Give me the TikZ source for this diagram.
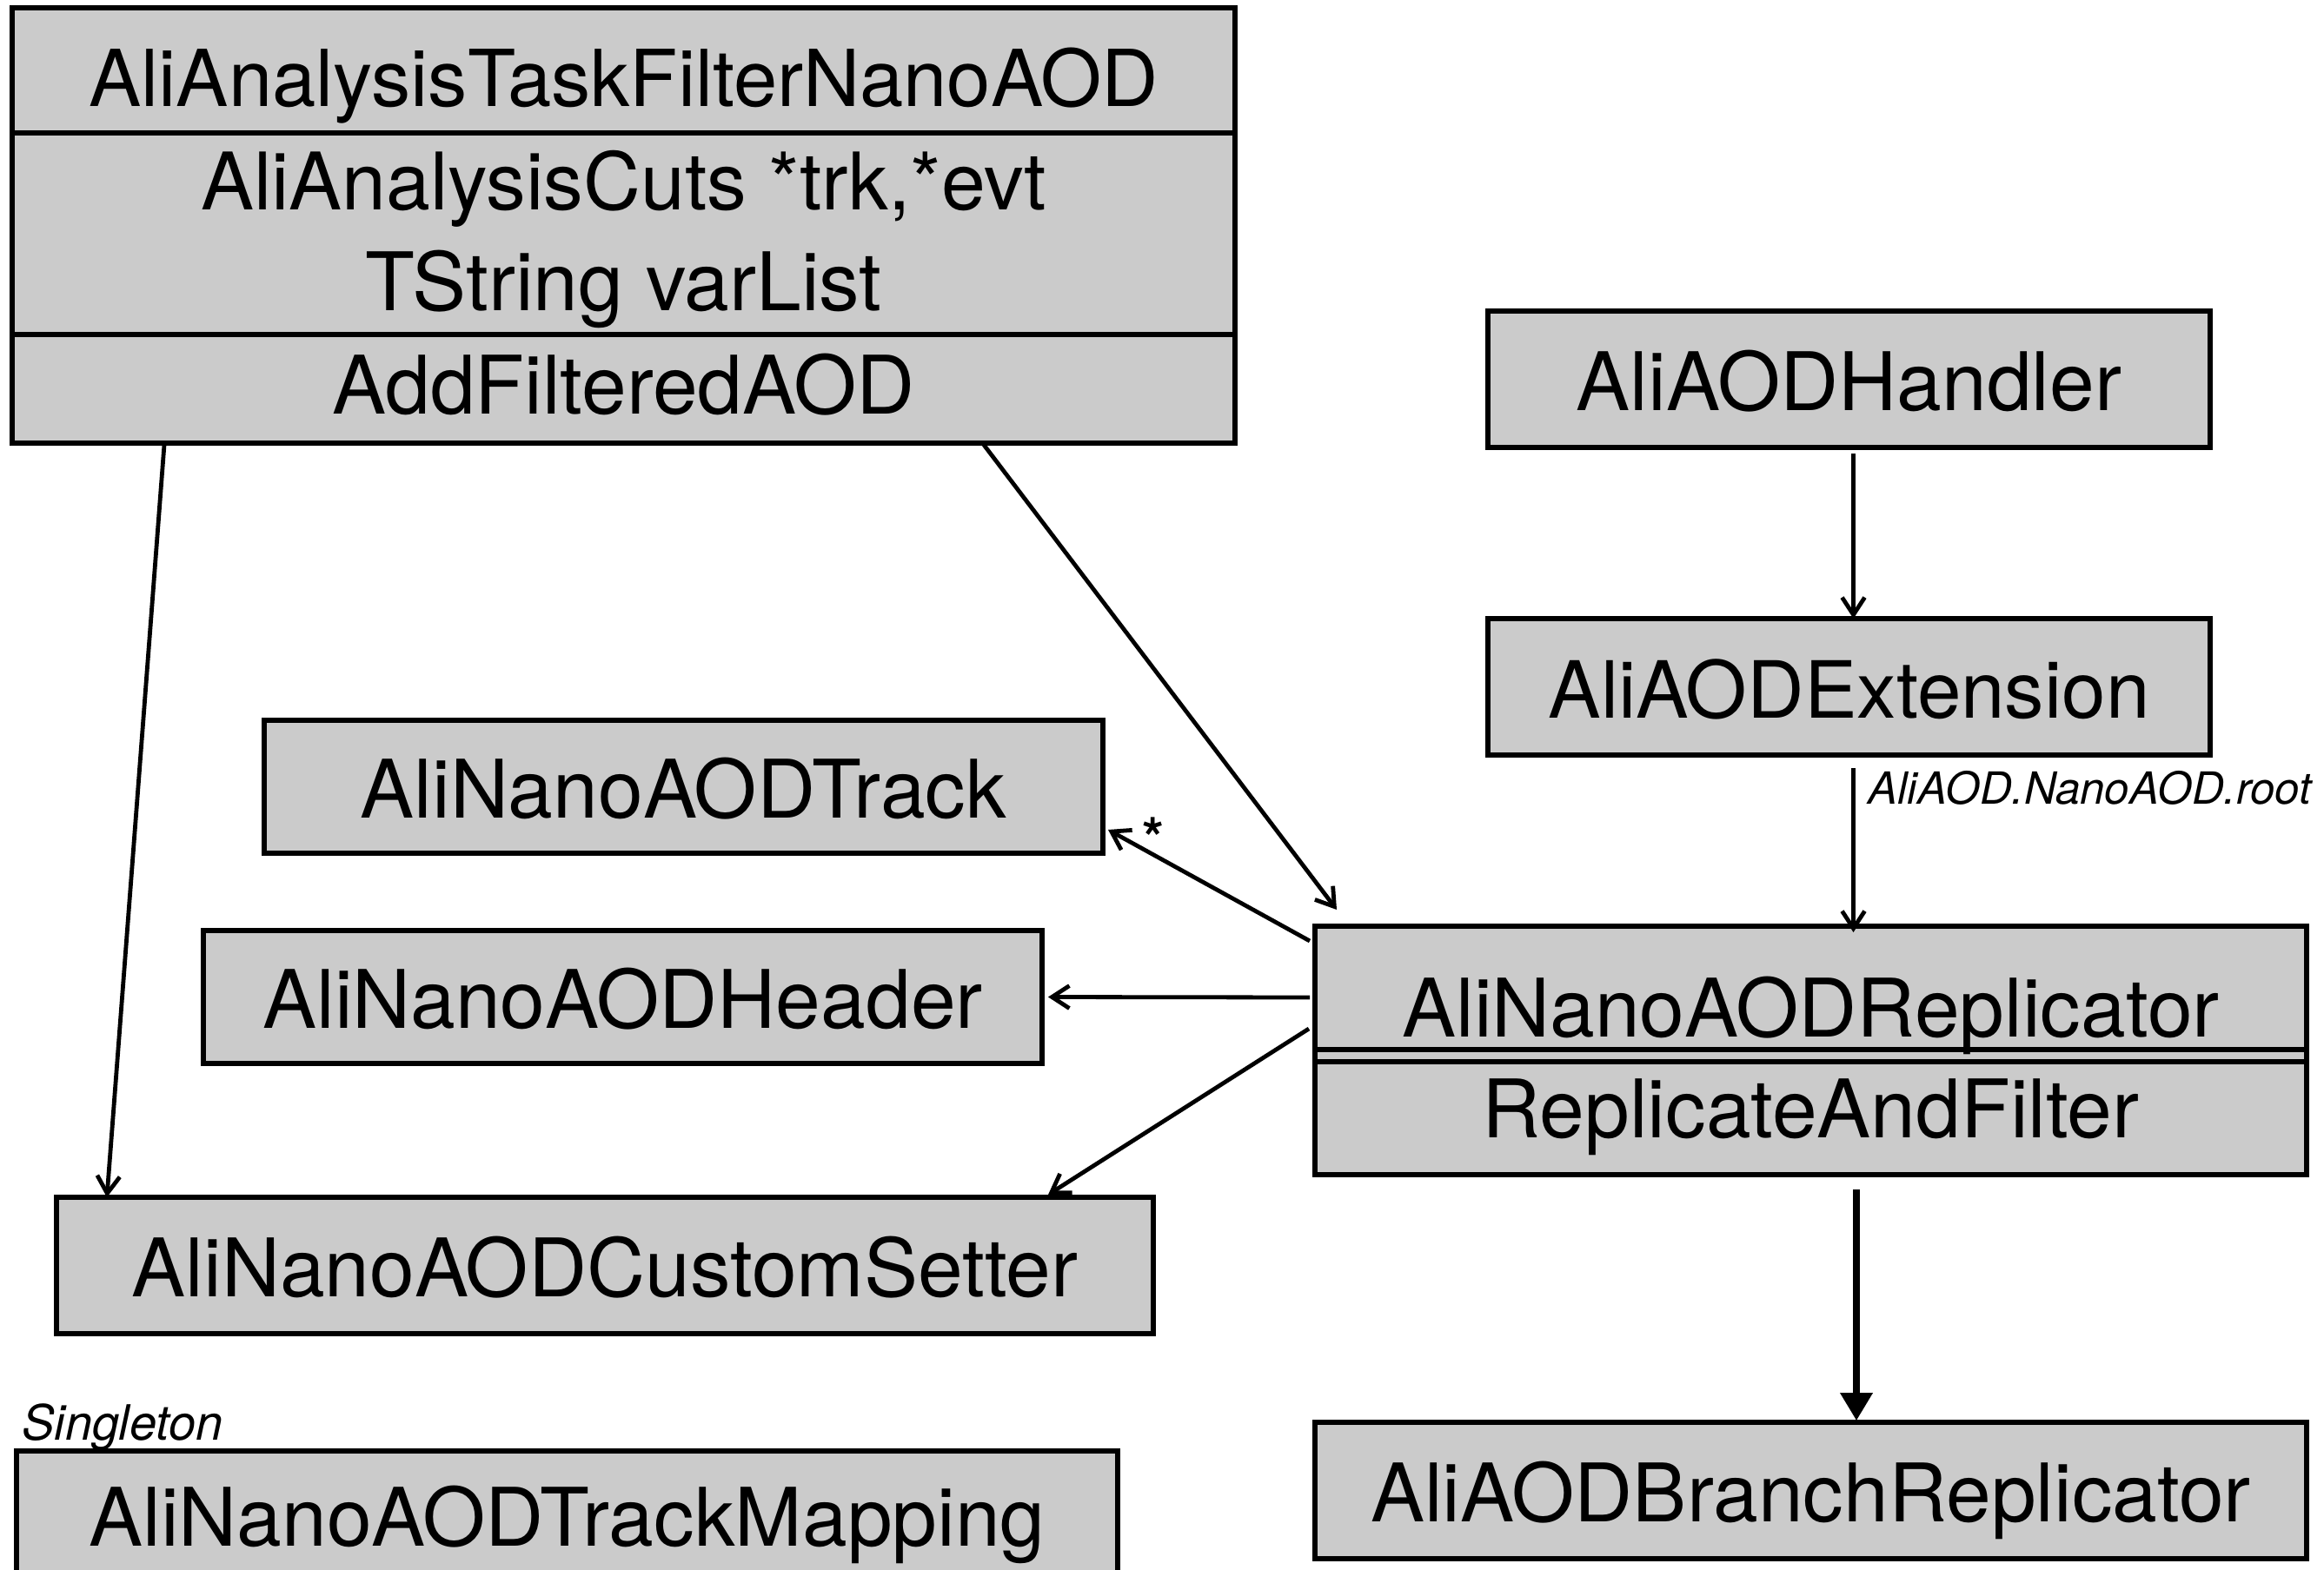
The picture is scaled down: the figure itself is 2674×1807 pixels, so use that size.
\documentclass[tikz,border=0pt]{standalone}
\usepackage{fontspec}
\setmainfont{TeX Gyre Heros}
\usetikzlibrary{arrows.meta,calc}
\definecolor{boxgray}{RGB}{203,203,203}
\begin{document}
\begin{tikzpicture}[x=0.5pt,y=-0.5pt,
  cls/.style={draw=black, fill=boxgray, line width=2.8pt, inner sep=0pt, outer sep=0pt,
    font=\fontsize{46.5}{55}\selectfont, text height=36pt, text depth=0pt},
  txt/.style={inner sep=0pt, font=\fontsize{46.5}{55}\selectfont, text height=33.5pt, text depth=0pt},
  lbl/.style={inner sep=0pt, anchor=base west},
  arr/.style={line width=2.4pt, -{Straight Barb[length=10pt,width=13pt]}},
  thickarr/.style={line width=3.6pt, -{Triangle[length=16pt,width=18pt]}},
  divider/.style={line width=2.8pt}]
\useasboundingbox (0,0) rectangle (2674,1807);
\clip (0,0) rectangle (2674,1807);

% task box
\node[cls, minimum width=703.5pt, minimum height=250.5pt] (task) at (717.5,259.5) {};
\draw[divider] (14,153) -- (1421,153);
\draw[divider] (14,385) -- (1421,385);
\node[txt, font=\fontsize{45.2}{54}\selectfont] (taskname) at (717.5,89) {AliAnalysisTaskFilterNanoAOD};
\node[txt, font=\fontsize{45.7}{54}\selectfont] (taskcuts) at (717.5,208) {AliAnalysisCuts *trk,*evt};
\node[txt] (taskvar) at (717.5,324) {TString varList};
\node[txt] (taskop) at (717.5,443) {AddFilteredAOD};

% right column
\node[cls, minimum width=415.5pt, minimum height=78.5pt] (handler) at (2127.5,436.5) {AliAODHandler};
\node[cls, minimum width=415.5pt, minimum height=78.5pt, font=\fontsize{45.4}{54}\selectfont] (ext) at (2127.5,790.5) {AliAODExtension};

% replicator
\node[cls, minimum width=570.5pt, minimum height=143pt] (repl) at (2083.5,1209) {};
\draw[divider] (1513,1208) -- (2654,1208);
\draw[divider] (1513,1222) -- (2654,1222);
\node[txt] (repltitle) at (2083.5,1160) {AliNanoAODReplicator};
\node[txt] (replop) at (2083.5,1276) {ReplicateAndFilter};

\node[cls, minimum width=570.5pt, minimum height=78.5pt] (branch) at (2083.5,1715.5) {AliAODBranchReplicator};

% left column
\node[cls, minimum width=482.5pt, minimum height=76.5pt] (track) at (786.5,905.5) {AliNanoAODTrack};
\node[cls, minimum width=482.5pt, minimum height=76.5pt] (header) at (716.5,1147.5) {AliNanoAODHeader};
\node[cls, minimum width=631pt, minimum height=78.5pt] (setter) at (696,1456.5) {AliNanoAODCustomSetter};
\node[cls, minimum width=633.5pt, minimum height=73pt] (mapping) at (652.5,1743) {AliNanoAODTrackMapping};

% labels
\node[lbl, font=\fontsize{28}{32}\selectfont\itshape] (singleton) at (25,1657) {Singleton};
\node[lbl, font=\fontsize{25.5}{30}\selectfont\itshape] (rootlbl) at (2149,925) {AliAOD.NanoAOD.root};
\node[inner sep=0pt, anchor=base, font=\fontsize{32}{36}\selectfont\bfseries] (star) at (1327,987) {*};

% connectors
\draw[arr] ($(task.south west)+(175,2)$) -- ($(setter.north west)+(58,0)$);
\draw[arr] ($(task.south west)+(1118,2)$) -- ($(repl.north west)+(25,-19)$);
\draw[arr] ($(handler.south)+(5,7)$) -- ($(ext.north)+(5,0)$);
\draw[arr] ($(ext.south)+(5,15)$) -- ($(repl.north)+(49,7)$);
\draw[arr] ($(repl.north west)+(-6,17)$) -- ($(track.south east)+(6,-27)$);
\draw[arr] ($(repl.north west)+(-6,82)$) -- ($(header.east)+(7,0)$);
\draw[arr] ($(repl.north west)+(-7,118)$) -- ($(setter.north east)+(-121,-3)$);
\draw[thickarr] ($(repl.south)+(52.5,17)$) -- ($(branch.north)+(52.5,-2)$);
\end{tikzpicture}
\end{document}
